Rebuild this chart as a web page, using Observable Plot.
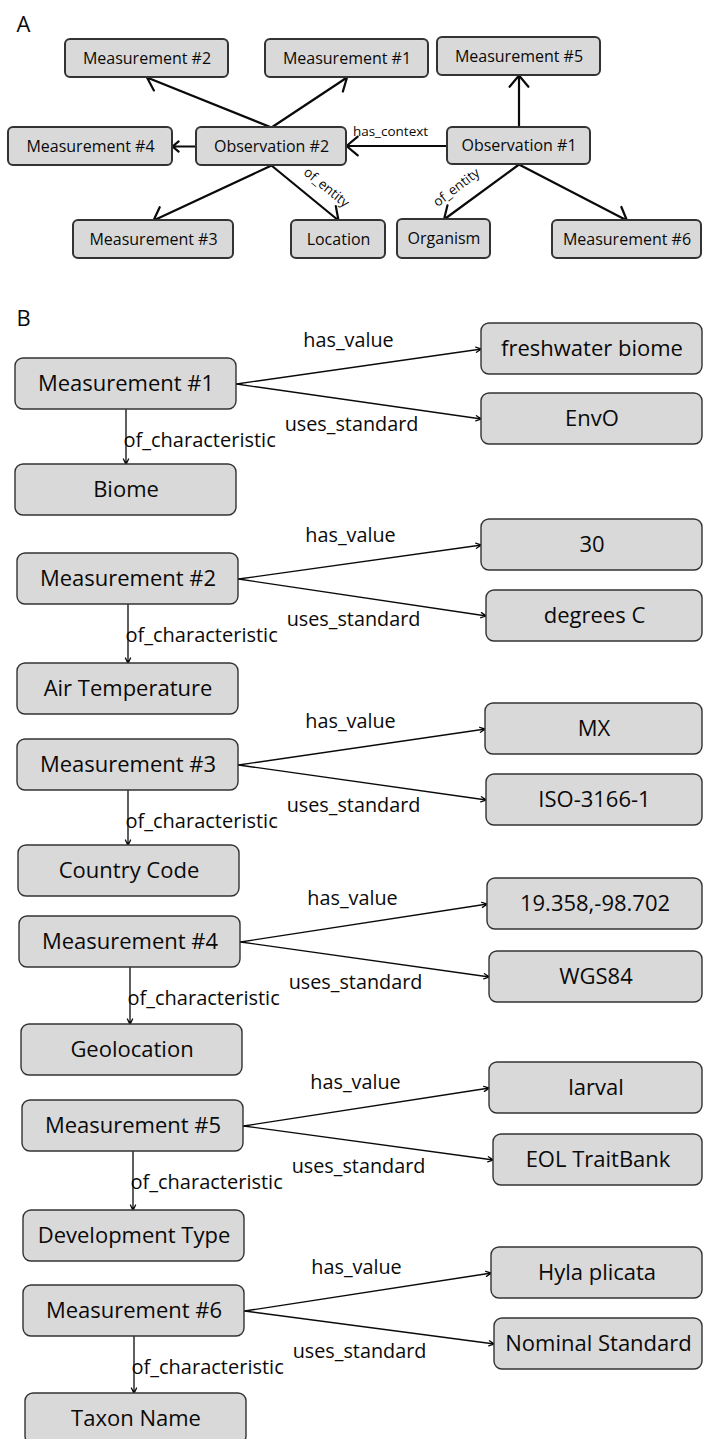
<!DOCTYPE html>
<html><head><meta charset="utf-8">
<script src="https://cdn.jsdelivr.net/npm/d3@7"></script>
<script src="https://cdn.jsdelivr.net/npm/@observablehq/plot@0.6"></script>
<style>
html,body{margin:0;padding:0;background:#fff;overflow:hidden;}
#chart svg{display:block;overflow:hidden;}
</style></head><body><div id="chart"></div>
<script>
// ---------- Panel A: observation graph ----------
const aLabels = ["Measurement #2","Measurement #1","Measurement #5","Measurement #4","Observation #2","Observation #1","Measurement #3","Location","Organism","Measurement #6"];
const aLeft   = [65, 265, 437, 8, 196, 447, 73, 291, 397, 552];
const aRight  = [228, 428, 600, 172, 346, 590, 233, 385, 490, 701];
const aTop    = [39, 39, 37, 127, 127, 127, 220, 220, 219, 220];
const aBottom = [77, 77, 75, 165, 165, 164, 258, 258, 258, 258];
// edges: source, target, direction of travel
const aEdges = [
  ["Observation #2","Measurement #2","up"],
  ["Observation #2","Measurement #1","up"],
  ["Observation #2","Measurement #4","left"],
  ["Observation #2","Measurement #3","down"],
  ["Observation #2","Location","down"],
  ["Observation #1","Observation #2","left"],
  ["Observation #1","Measurement #5","up"],
  ["Observation #1","Organism","down"],
  ["Observation #1","Measurement #6","down"]
];
const aEdgeText   = ["has_context","of_entity","of_entity"];
const aEdgeTextX  = [390, 326, 456];
const aEdgeTextY  = [131, 187, 187];
const aEdgeTextRot = [0, 39, -37];

// ---------- Panel B: measurement details ----------
const measurements    = ["Measurement #1","Measurement #2","Measurement #3","Measurement #4","Measurement #5","Measurement #6"];
const characteristics = ["Biome","Air Temperature","Country Code","Geolocation","Development Type","Taxon Name"];
const valuesB         = ["freshwater biome","30","MX","19.358,-98.702","larval","Hyla plicata"];
const standards       = ["EnvO","degrees C","ISO-3166-1","WGS84","EOL TraitBank","Nominal Standard"];
const relations       = ["has_value","uses_standard","of_characteristic"];

const measLeft  = [15, 17, 17, 19, 22, 23];
const measTop   = [358, 553, 739, 916, 1100, 1285];
const charLeft  = [15, 17, 18, 21, 23, 25];
const charTop   = [464, 663, 845, 1024, 1210, 1393];
const valLeft   = [481, 481, 485, 487, 489, 491];
const valTop    = [323, 519, 703, 878, 1062, 1247];
const stdLeft   = [481, 486, 486, 489, 493, 494];
const stdTop    = [393, 590, 774, 951, 1134, 1318];
const leftBoxW = 221, boxH = 51, rightEdge = 702;

// ---------- build tables ----------
const boxesA = aLabels.map((label, i) => ({label, x1: aLeft[i], x2: aRight[i], y1: aTop[i], y2: aBottom[i]}));
const byName = new Map(boxesA.map(b => [b.label, b]));
const arrowsA = aEdges.map(([s, t, dir]) => {
  const a = byName.get(s), b = byName.get(t);
  const acx = (a.x1 + a.x2) / 2, bcx = (b.x1 + b.x2) / 2;
  if (dir === "up") return {x1: acx, y1: a.y1, x2: bcx, y2: b.y2};
  if (dir === "down") return {x1: acx, y1: a.y2, x2: bcx, y2: b.y1};
  const ay = (a.y1 + a.y2) / 2;
  return {x1: a.x1, y1: ay, x2: b.x2, y2: ay};
});
const labelsA = aEdgeText.map((text, i) => ({text, x: aEdgeTextX[i], y: aEdgeTextY[i], rotate: aEdgeTextRot[i]}));

const boxesB = [], arrowsB = [], arrowsDown = [], labelsB = [];
measurements.forEach((m, i) => {
  const mb = {label: m, x1: measLeft[i], x2: measLeft[i] + leftBoxW, y1: measTop[i], y2: measTop[i] + boxH};
  const cb = {label: characteristics[i], x1: charLeft[i], x2: charLeft[i] + leftBoxW, y1: charTop[i], y2: charTop[i] + boxH};
  const vb = {label: valuesB[i], x1: valLeft[i], x2: rightEdge, y1: valTop[i], y2: valTop[i] + boxH};
  const sb = {label: standards[i], x1: stdLeft[i], x2: rightEdge, y1: stdTop[i], y2: stdTop[i] + boxH};
  boxesB.push(mb, cb, vb, sb);
  const my = (mb.y1 + mb.y2) / 2;
  arrowsB.push({x1: mb.x2, y1: my, x2: vb.x1, y2: (vb.y1 + vb.y2) / 2});
  arrowsB.push({x1: mb.x2, y1: my, x2: sb.x1, y2: (sb.y1 + sb.y2) / 2});
  const cx = (mb.x1 + mb.x2) / 2;
  arrowsDown.push({x1: cx, y1: mb.y2, x2: cx, y2: cb.y1});
  labelsB.push({text: relations[0], x: mb.x2 + 112, y: mb.y1 - 18, anchor: "middle"});
  labelsB.push({text: relations[1], x: mb.x2 + 115, y: mb.y1 + 66, anchor: "middle"});
  labelsB.push({text: relations[2], x: mb.x1 + 108, y: mb.y1 + 82, anchor: "start"});
});

const panelLetters = [{t: "A", x: 16, y: 24}, {t: "B", x: 16, y: 318}];

const font = "'Open Sans', sans-serif";
const boxFill = "#d9d9d9", boxStroke = "#333", ink = "#0a0a0a";

const chart = Plot.plot({
  width: 704,
  height: 1439,
  margin: 0,
  style: {fontFamily: font, background: "#fff"},
  x: {domain: [0, 704], axis: null},
  y: {domain: [0, 1439], reverse: true, axis: null},
  marks: [
    // Panel A
    Plot.arrow(arrowsA, {x1: "x1", y1: "y1", x2: "x2", y2: "y2", stroke: ink, strokeWidth: 2.2, headLength: 10, headAngle: 80}),
    Plot.rect(boxesA, {x1: "x1", x2: "x2", y1: "y1", y2: "y2", fill: boxFill, stroke: boxStroke, strokeWidth: 2, rx: 5}),
    Plot.text(boxesA, {x: d => (d.x1 + d.x2) / 2, y: d => (d.y1 + d.y2) / 2, text: "label", fontSize: 16, fill: ink, fontFamily: font}),
    Plot.text(labelsA, {x: "x", y: "y", text: "text", rotate: "rotate", fontSize: 13.5, fill: ink, fontFamily: font}),
    // Panel B
    Plot.arrow(arrowsB, {x1: "x1", y1: "y1", x2: "x2", y2: "y2", stroke: ink, strokeWidth: 1.3, headLength: 7, headAngle: 50}),
    Plot.arrow(arrowsDown, {x1: "x1", y1: "y1", x2: "x2", y2: "y2", stroke: ink, strokeWidth: 1.3, headLength: 7, headAngle: 50}),
    Plot.rect(boxesB, {x1: "x1", x2: "x2", y1: "y1", y2: "y2", fill: boxFill, stroke: boxStroke, strokeWidth: 1.4, rx: 8}),
    Plot.text(boxesB, {x: d => (d.x1 + d.x2) / 2, y: d => (d.y1 + d.y2) / 2, text: "label", fontSize: 22, fill: ink, fontFamily: font}),
    Plot.text(labelsB.filter(d => d.anchor === "middle"), {x: "x", y: "y", text: "text", fontSize: 19.8, fill: ink, fontFamily: font}),
    Plot.text(labelsB.filter(d => d.anchor === "start"), {x: "x", y: "y", text: "text", textAnchor: "start", fontSize: 20, fill: ink, fontFamily: font}),
    // panel letters
    Plot.text(panelLetters, {x: "x", y: "y", text: "t", textAnchor: "start", fontSize: 22, fill: ink, fontFamily: font})
  ]
});
document.getElementById("chart").appendChild(chart);
</script></body></html>
